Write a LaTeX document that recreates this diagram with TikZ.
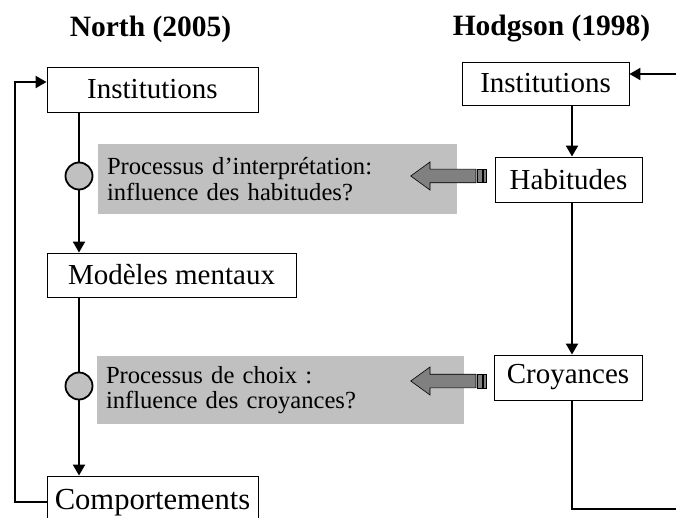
\documentclass[tikz,border=0pt]{standalone}
\usepackage{fontspec}
\setmainfont{Liberation Serif}
\usetikzlibrary{arrows.meta}
\definecolor{boxgray}{HTML}{C0C0C0}
\definecolor{arrgray}{HTML}{808080}
\begin{document}
\begin{tikzpicture}[x=1pt,y=-1pt,
 lbl/.style={draw=black,line width=0.9pt,fill=white,inner sep=0pt,font=\fontsize{29}{29}\selectfont},
 note/.style={fill=boxgray,inner xsep=9pt,inner ysep=0pt,align=left,font=\fontsize{24.6}{25.5}\selectfont},
 conn/.style={line width=2.2pt,-{Triangle[length=11pt,width=12pt]}},
 plain/.style={line width=2.2pt},
 knot/.style={circle,draw=black,line width=1.8pt,fill=boxgray,minimum size=27pt,inner sep=0pt},
 fat/.style={draw=black,line width=0.6pt,fill=arrgray},
 ttl/.style={font=\bfseries\fontsize{29.5}{29.5}\selectfont}]
\useasboundingbox (0,0) rectangle (676,518);
\clip (0,0) rectangle (676,518);
% titles
\node[ttl] (tN) at (150.5,29) {North (2005)};
\node[ttl] (tH) at (551.5,29) {Hodgson (1998)};
% gray notes
\node[note,text width=341pt,minimum height=70pt] (g1) at (277.5,179) {Processus d’interprétation:\\influence des habitudes?};
\node[note,text width=349pt,minimum height=68pt] (g2) at (280.5,390) {Processus de choix :\\influence des croyances?};
% left column
\node[lbl,minimum width=211pt,minimum height=45pt] (i1) at (152.5,89.5) {Institutions};
\node[lbl,minimum width=249pt,minimum height=44pt] (mm) at (171.5,275) {Modèles mentaux};
\node[lbl,minimum width=211pt,minimum height=54pt,font=\fontsize{30.6}{30.6}\selectfont] (cp) at (152.5,503) {Comportements};
\coordinate (k1c) at (79,176);
\coordinate (k2c) at (79,386);
\draw[conn] (i1.south -| k1c) -- (mm.north -| k1c);
\draw[conn] (mm.south -| k2c) -- (cp.north -| k2c);
\node[knot] (k1) at (k1c) {};
\node[knot] (k2) at (k2c) {};
\coordinate (lx) at (15,0);
\draw[conn] ([yshift=1pt]cp.west) -- ([yshift=1pt]cp.west -| lx) -- ([yshift=7.5pt]i1.west -| lx) -- ([yshift=7.5pt]i1.west);
% right column
\node[lbl,minimum width=167pt,minimum height=43pt] (i2) at (545.5,83.5) {Institutions};
\node[lbl,minimum width=147pt,minimum height=45pt] (hb) at (568.5,179.5) {Habitudes};
\node[lbl,minimum width=148pt,minimum height=45pt] (cr) at (568,377.5) {Croyances};
\coordinate (rin) at (690,74);
\draw[conn] (rin) -- (rin -| i2.east);
\coordinate (rx) at (572,0);
\draw[conn] (i2.south -| rx) -- (hb.north -| rx);
\draw[conn] (hb.south -| rx) -- (cr.north -| rx);
\coordinate (rout) at (690,509);
\draw[plain] (cr.south -| rx) |- (rout);
% fat striped arrows
\foreach \yy in {176,381}{
\begin{scope}[shift={(0,\yy)}]
\draw[fat] (410.7,0) -- (430,-14) -- (430,-6.8) -- (476,-6.8) -- (476,6.8) -- (430,6.8) -- (430,14) -- cycle;
\draw[fat] (477.3,-6.8) rectangle (482.7,6.8);
\draw[fat] (483.7,-6.8) rectangle (486,6.8);
\end{scope}}
\end{tikzpicture}
\end{document}
